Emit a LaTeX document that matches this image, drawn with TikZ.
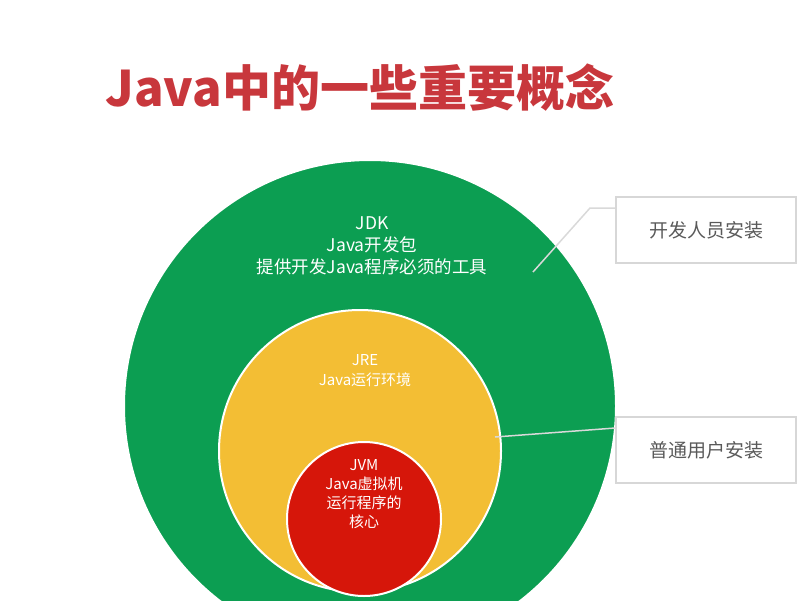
\documentclass[tikz,border=0pt]{standalone}
\usepackage{fontspec}
\setmainfont{Noto Sans CJK SC}
\usetikzlibrary{positioning}
\definecolor{titlered}{RGB}{200,55,60}
\definecolor{jdkgreen}{RGB}{12,158,82}
\definecolor{jreyellow}{RGB}{243,190,52}
\definecolor{jvmred}{RGB}{214,22,10}
\definecolor{boxgray}{RGB}{215,215,215}
\begin{document}
\begin{tikzpicture}[x=1pt,y=-1pt,
    ring/.style={circle, draw=white, line width=2pt, inner sep=0pt},
    note/.style={draw=boxgray, line width=1.5pt, minimum width=180pt, minimum height=66pt, text=black!65, font=\fontsize{19}{22}\selectfont},
    leader/.style={draw=white!85!black, line width=1.5pt}]
    \useasboundingbox (0,0) rectangle (800,600);
    \clip (0,0) rectangle (800,600);
    % title
    \node[anchor=west, text=titlered, font=\fontsize{49}{54}\bfseries\selectfont] (title) at (102,88) {Java中的一些重要概念};
    % nested circles
    \node[ring, fill=jdkgreen, minimum size=492pt] (jdk) at (370,406) {};
    \node[ring, fill=jreyellow, minimum size=282pt] (jre) at (360,451) {};
    \node[ring, fill=jvmred, minimum size=154pt] (jvm) at (364,519) {};
    \node[text=white, align=center, font=\fontsize{17.5}{22}\selectfont] (jdktext) at (372,246) {JDK\\Java开发包\\提供开发Java程序必须的工具};
    \node[text=white, align=center, font=\fontsize{15}{20}\selectfont] (jretext) at (365,371) {JRE\\Java运行环境};
    \node[text=white, align=center, font=\fontsize{15}{19}\selectfont] (jvmtext) at (364,494) {JVM\\Java虚拟机\\运行程序的\\核心};
    % callouts
    \node[note] (dev) at (706,230) {开发人员安装};
    \node[note] (user) at (706,450) {普通用户安装};
    \coordinate (devend) at (533,272);
    \coordinate (devknee) at (590,208);
    \coordinate (userend) at (495,437);
    \draw[leader] (devend) -- (devknee) -- (dev.west |- devknee);
    \draw[leader] (userend) -- (user.west |- 0,428);
\end{tikzpicture}
\end{document}
